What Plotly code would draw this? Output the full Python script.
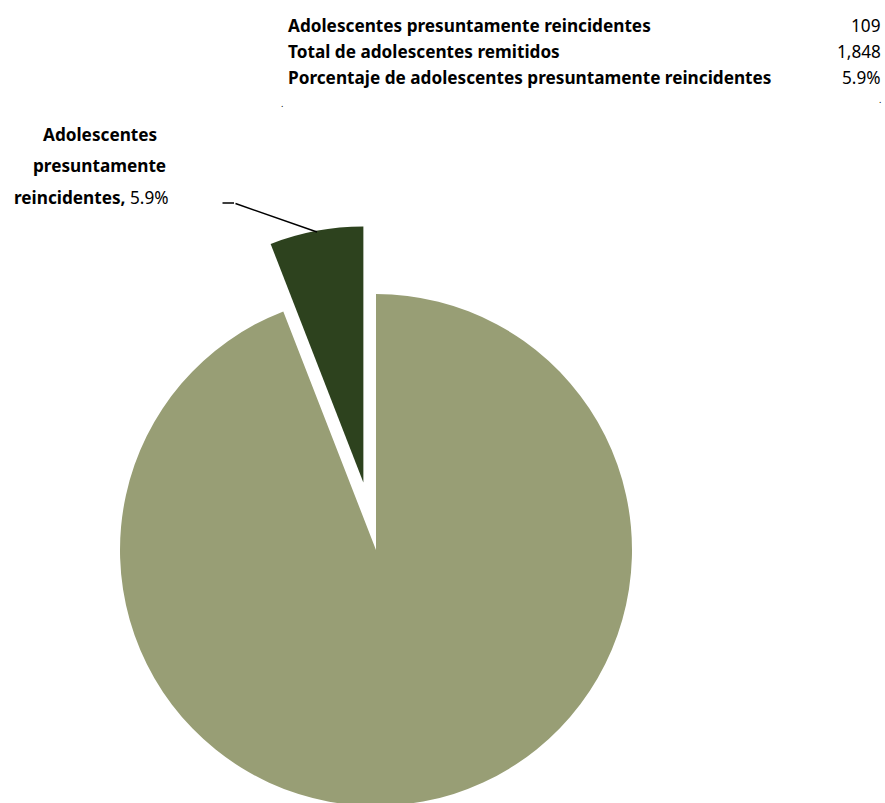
import plotly.graph_objects as go

W, H = 885, 880

# ---- data ----
slice_labels = ["Resto de adolescentes remitidos", "Adolescentes presuntamente reincidentes"]
slice_values = [1739, 109]
slice_colors = ["#989E75", "#2D421E"]
slice_pull = [0, 0.268]

table_labels = ["Adolescentes presuntamente reincidentes",
                "Total de adolescentes remitidos",
                "Porcentaje de adolescentes presuntamente reincidentes"]
table_values = ["109", "1,848", "5.9%"]

FONT = "Noto Sans"
FS = 17.2

def px(x):
    return x / W

def py(y):
    return 1 - y / H

# pie geometry
cx, cy, r = 376, 550, 256
box = 2 * r * (1 + max(slice_pull))

fig = go.Figure()
fig.add_trace(go.Pie(
    labels=slice_labels, values=slice_values, sort=False,
    direction="clockwise", rotation=0,
    marker=dict(colors=slice_colors, line=dict(width=0)),
    pull=slice_pull, textinfo="none", hoverinfo="label+value+percent",
    domain=dict(x=[px(cx - box / 2), px(cx + box / 2)],
                y=[py(cy + box / 2), py(cy - box / 2)]),
    showlegend=False,
))

ann = []
row_y = [25, 51, 78]
for lab, val, yy in zip(table_labels, table_values, row_y):
    ann.append(dict(x=px(286), y=py(yy), xref="paper", yref="paper", text="<b>%s</b>" % lab,
                    showarrow=False, xanchor="left", yanchor="middle",
                    font=dict(family=FONT, size=FS, color="#000")))
    ann.append(dict(x=px(883), y=py(yy), xref="paper", yref="paper", text=val,
                    showarrow=False, xanchor="right", yanchor="middle",
                    font=dict(family=FONT, size=FS, color="#000")))

# slice label lines
pct = slice_values[1] / sum(slice_values) * 100
label_lines = [("<b>Adolescentes</b>", 100, 134),
               ("<b>presuntamente</b>", 99, 166),
               ("<b>reincidentes,</b> %.1f%%" % pct, 91, 197)]
for t, xx, yy in label_lines:
    ann.append(dict(x=px(xx), y=py(yy), xref="paper", yref="paper", text=t,
                    showarrow=False, xanchor="center", yanchor="middle",
                    font=dict(family=FONT, size=FS, color="#000")))

# leader line
ann.append(dict(x=px(317), y=py(232), xref="paper", yref="paper", text="",
                showarrow=True, arrowhead=0, arrowwidth=1.5, arrowcolor="#000",
                ax=234 - 317, ay=203 - 232, standoff=0, startstandoff=0))
ann.append(dict(x=px(234), y=py(203), xref="paper", yref="paper", text="",
                showarrow=True, arrowhead=0, arrowwidth=1.5, arrowcolor="#000",
                ax=221 - 234, ay=0, standoff=0, startstandoff=0))

# tiny marks under the table
for xx, yy in [(282, 112), (880, 108)]:
    ann.append(dict(x=px(xx), y=py(yy), xref="paper", yref="paper", text=".",
                    showarrow=False, xanchor="center", yanchor="bottom",
                    font=dict(family=FONT, size=9, color="#000")))

fig.update_layout(
    width=W, height=H,
    margin=dict(l=0, r=0, t=0, b=0),
    paper_bgcolor="white", plot_bgcolor="white",
    annotations=ann,
)

fig.write_html("out.html",
               config={"displayModeBar": False},
               post_script="document.body.style.margin='0';"
                           "document.body.style.overflow='hidden';"
                           "document.documentElement.style.overflow='hidden';")
